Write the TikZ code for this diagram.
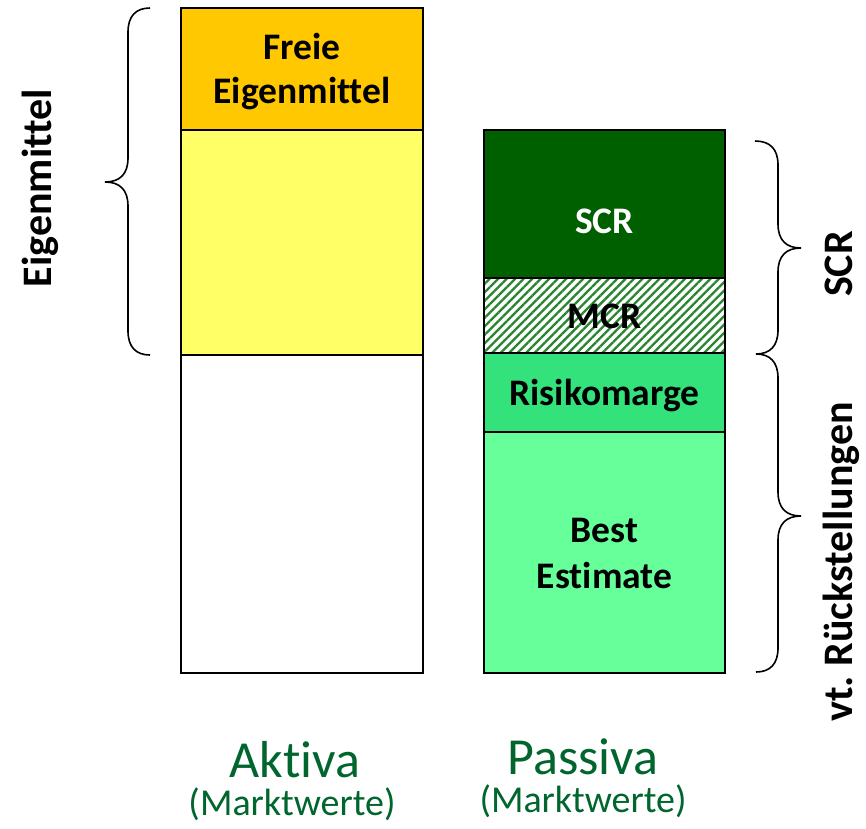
\documentclass[tikz,border=0pt]{standalone}
\usepackage{fontspec}
\setmainfont{Carlito}[Ligatures={NoCommon}]
\usetikzlibrary{patterns.meta}
\definecolor{orangeF}{HTML}{FFC800}
\definecolor{yellowE}{HTML}{FFFF66}
\definecolor{scrgreen}{HTML}{006000}
\definecolor{riskgreen}{HTML}{33E27A}
\definecolor{bestgreen}{HTML}{66FF99}
\definecolor{hatchgreen}{HTML}{2A8530}
\definecolor{labelgreen}{HTML}{00662E}
\frenchspacing
\begin{document}
\begin{tikzpicture}[x=1pt,y=-1pt,
  box/.style={draw=black,line width=1.6pt,anchor=north west,inner sep=0pt,outer sep=0pt},
  lbl/.style={font=\fontsize{37.5}{46}\selectfont\bfseries,anchor=base,inner sep=0pt},
  sidelabel/.style={font=\fontsize{42}{48}\selectfont\bfseries,anchor=base,rotate=90,inner sep=0pt},
  collabel/.style={font=\fontsize{52}{60}\selectfont,text=labelgreen,anchor=base,inner sep=0pt},
  sublabel/.style={font=\fontsize{38}{44}\selectfont,text=labelgreen,anchor=base,inner sep=0pt},
  bracestroke/.style={line width=1.6pt}]
\fill[white] (0,0) rectangle (866,828);
\useasboundingbox (0,0) rectangle (866,828);
% left column
\node[box,fill=orangeF,minimum width=242pt,minimum height=122pt] (frei) at (181,8) {};
\node[box,fill=yellowE,minimum width=242pt,minimum height=225pt] (eig) at (181,130) {};
\node[box,fill=white,minimum width=242pt,minimum height=318pt] (akt) at (181,355) {};
% right column
\node[box,fill=scrgreen,minimum width=241pt,minimum height=148pt] (scr) at (484,130) {};
\node[box,preaction={fill=white},pattern={Lines[angle=45,distance=6pt,line width=2.3pt]},pattern color=hatchgreen,minimum width=241pt,minimum height=75pt] (mcr) at (484,278) {};
\node[box,fill=riskgreen,minimum width=241pt,minimum height=79pt] (risk) at (484,353) {};
\node[box,fill=bestgreen,minimum width=241pt,minimum height=241pt] (best) at (484,432) {};
% box texts
\node[lbl] (tfrei) at (302,59) {Freie};
\node[lbl] (teig) at (302,103) {Eigenmittel};
\node[lbl,text=white] (tscr) at (604.5,233) {SCR};
\node[lbl] (tmcr) at (604.5,328) {MCR};
\node[lbl] (trisk) at (604.5,405) {Risikomarge};
\node[lbl] (tbest1) at (604.5,542) {Best};
\node[lbl] (tbest2) at (604.5,588) {Estimate};
% braces
\draw[bracestroke] (150,8) .. controls (136,8) and (128,16) .. (128,32) -- (128,158)
  .. controls (128,174) and (120,182) .. (105,182)
  .. controls (120,182) and (128,190) .. (128,206) -- (128,331)
  .. controls (128,347) and (136,355) .. (150,355);
\draw[bracestroke] (755,141) .. controls (770,141) and (778,149) .. (778,165) -- (778,224)
  .. controls (778,240) and (786,248) .. (801,248)
  .. controls (786,248) and (778,256) .. (778,272) -- (778,330)
  .. controls (778,346) and (770,354) .. (756,354);
\draw[bracestroke] (756,354) .. controls (770,354) and (778,362) .. (778,378) -- (778,492)
  .. controls (778,508) and (786,516) .. (801,516)
  .. controls (786,516) and (778,524) .. (778,540) -- (778,648)
  .. controls (778,664) and (770,672) .. (756,672);
% side labels
\node[sidelabel] (seig) at (51,188) {Eigenmittel};
\node[sidelabel] (sscr) at (852,264) {SCR};
\node[sidelabel] (sruck) at (852,562) {vt. Rückstellungen};
% bottom labels
\node[collabel] (aktiva) at (295,777) {Aktiva};
\node[sublabel] (mw1) at (292,815) {(Marktwerte)};
\node[collabel] (passiva) at (583,774) {Passiva};
\node[sublabel] (mw2) at (583,812) {(Marktwerte)};
\end{tikzpicture}
\end{document}
